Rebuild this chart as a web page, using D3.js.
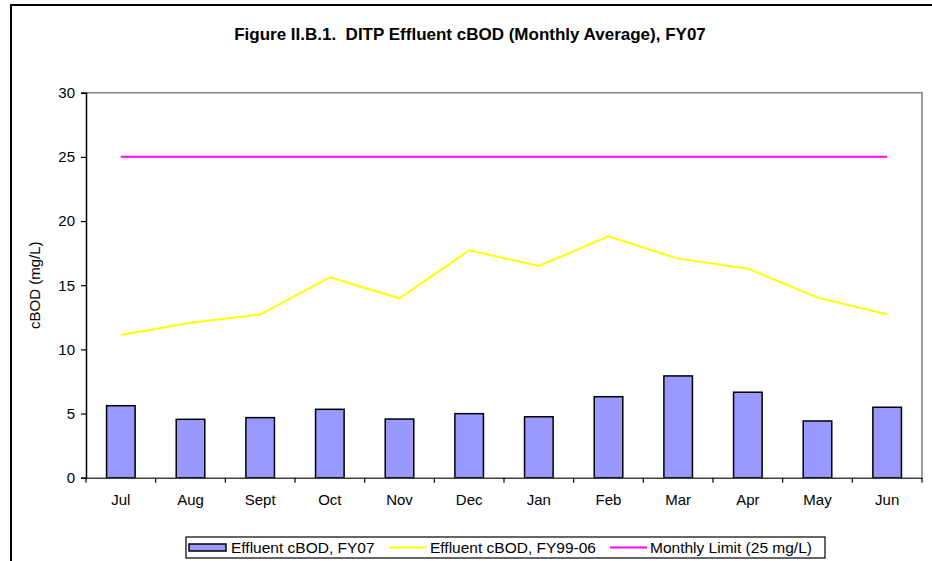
<html>
<script src='https://d3js.org/d3.v7.min.js'></script>
<style>
body {margin: 0; background: white;}
text {font-family: "Liberation Sans", Arial, sans-serif;}
</style>
<body>
<svg width=932 height=561></svg>
<script>
// values
var months = ["Jul", "Aug", "Sept", "Oct", "Nov", "Dec", "Jan", "Feb", "Mar", "Apr", "May", "Jun"];
var fy07 = [5.61, 4.55, 4.68, 5.33, 4.57, 4.99, 4.75, 6.31, 7.93, 6.66, 4.42, 5.49];
var fy9906 = [11.12, 12.08, 12.71, 15.62, 13.98, 17.72, 16.5, 18.81, 17.07, 16.29, 14.03, 12.73];
var limit = [25, 25, 25, 25, 25, 25, 25, 25, 25, 25, 25, 25];
var yTicks = [0, 5, 10, 15, 20, 25, 30];

var pLeft = 86, pRight = 922, pTop = 92.7, pBottom = 477.7;
var svg = d3.select("svg");

// outer frame
svg.append("path")
   .attr("d", "M11,561 V5 H932")
   .attr("fill", "none").attr("stroke", "black").attr("stroke-width", 2);

svg.append("text")
   .attr("x", 470).attr("y", 40)
   .attr("text-anchor", "middle")
   .style("white-space", "pre")
   .style("font-weight", "bold").style("font-size", "17px")
   .text("Figure II.B.1.  DITP Effluent cBOD (Monthly Average), FY07");

var x = d3.scaleBand().domain(months).range([pLeft, pRight]);
var y = d3.scaleLinear().domain([0, 30]).range([pBottom, pTop]);

// plot area border (top, right)
svg.append("path")
   .attr("d", "M" + pLeft + "," + pTop + " H" + pRight + " V" + pBottom)
   .attr("fill", "none").attr("stroke", "#808080").attr("stroke-width", 1.5);

// bars
svg.selectAll("rect.bar")
   .data(fy07)
   .enter().append("rect")
   .attr("class", "bar")
   .attr("x", function(d, i) { return x(months[i]) + x.bandwidth() * 0.295; })
   .attr("width", x.bandwidth() * 0.41)
   .attr("y", function(d) { return y(d); })
   .attr("height", function(d) { return y(0) - y(d); })
   .attr("fill", "#9999FF").attr("stroke", "black").attr("stroke-width", 1.5);

var line = d3.line()
   .x(function(d, i) { return x(months[i]) + x.bandwidth() / 2; })
   .y(function(d) { return y(d); });

svg.append("path").datum(fy9906)
   .attr("d", line).attr("fill", "none")
   .attr("stroke", "#FFFF00").attr("stroke-width", 2);

svg.append("path").datum(limit)
   .attr("d", line).attr("fill", "none")
   .attr("stroke", "#FF00FF").attr("stroke-width", 2);

// y axis
var yAxis = svg.append("g")
   .attr("transform", "translate(" + pLeft + ",0)")
   .call(d3.axisLeft(y).tickValues(yTicks).tickSize(5).tickPadding(6));
yAxis.select(".domain").attr("stroke", "black").attr("stroke-width", 1.5);
yAxis.selectAll(".tick line").attr("stroke", "black").attr("stroke-width", 1.2);
yAxis.selectAll("text").style("font-size", "15px").attr("fill", "black")
   .style("font-family", "'Liberation Sans', Arial, sans-serif");

// x axis
var xAxis = svg.append("g")
   .attr("transform", "translate(0," + pBottom + ")")
   .call(d3.axisBottom(x).tickSize(0).tickPadding(17));
xAxis.select(".domain").attr("stroke", "#404040").attr("stroke-width", 1.5);
xAxis.selectAll("text").style("font-size", "15px").attr("fill", "black")
   .style("font-family", "'Liberation Sans', Arial, sans-serif");
svg.append("g").selectAll("line")
   .data(months.concat(["end"]))
   .enter().append("line")
   .attr("x1", function(d, i) { return pLeft + i * x.bandwidth(); })
   .attr("x2", function(d, i) { return pLeft + i * x.bandwidth(); })
   .attr("y1", pBottom).attr("y2", pBottom + 5)
   .attr("stroke", "black").attr("stroke-width", 1.2);

svg.append("text")
   .attr("transform", "translate(40," + ((pTop + pBottom) / 2) + ") rotate(-90)")
   .attr("text-anchor", "middle")
   .style("font-size", "15px")
   .text("cBOD (mg/L)");

// legend
var lg = svg.append("g");
lg.append("rect")
  .attr("x", 186).attr("y", 537).attr("width", 639).attr("height", 21)
  .attr("fill", "white").attr("stroke", "black").attr("stroke-width", 1.2);
lg.append("rect")
  .attr("x", 189).attr("y", 544).attr("width", 37).attr("height", 7)
  .attr("fill", "#9999FF").attr("stroke", "black").attr("stroke-width", 1.5);
lg.append("text").attr("x", 231).attr("y", 553).style("font-size", "15.5px")
  .text("Effluent cBOD, FY07");
lg.append("line").attr("x1", 389).attr("x2", 426).attr("y1", 547.5).attr("y2", 547.5)
  .attr("stroke", "#FFFF00").attr("stroke-width", 2);
lg.append("text").attr("x", 430).attr("y", 553).style("font-size", "15.5px")
  .text("Effluent cBOD, FY99-06");
lg.append("line").attr("x1", 610).attr("x2", 647).attr("y1", 547.5).attr("y2", 547.5)
  .attr("stroke", "#FF00FF").attr("stroke-width", 2);
lg.append("text").attr("x", 650).attr("y", 553).style("font-size", "15.5px")
  .text("Monthly Limit (25 mg/L)");
</script>
</body>
</html>
